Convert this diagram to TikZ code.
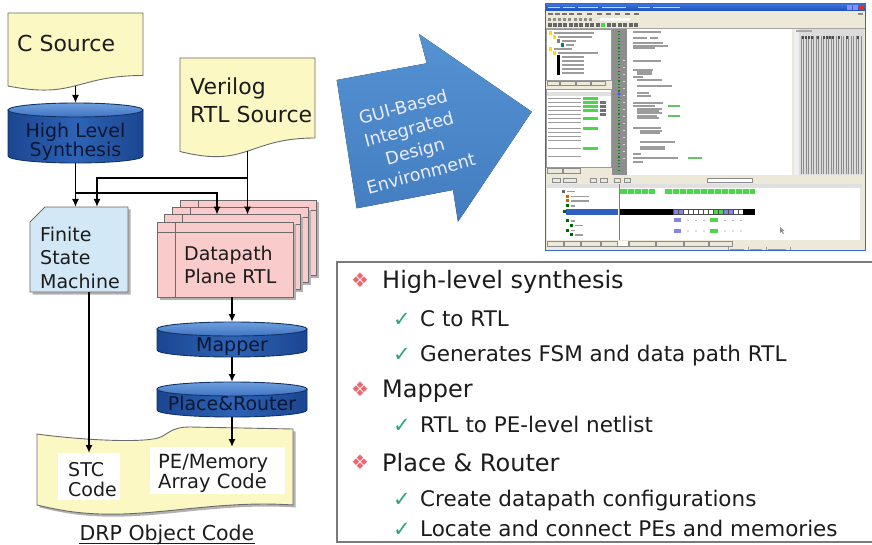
\documentclass[tikz,border=0pt]{standalone}
\usepackage{fontspec}
\setmainfont{DejaVu Sans}
\usetikzlibrary{arrows.meta,calc}

\definecolor{docyellow}{HTML}{FBF8C4}
\definecolor{docedge}{HTML}{6B6B6B}
\definecolor{cyldark}{HTML}{1B4690}
\definecolor{cylmid}{HTML}{2D63B6}
\definecolor{cyltopA}{HTML}{6E9FDD}
\definecolor{cyltopB}{HTML}{3F74C2}
\definecolor{cyledge}{HTML}{123366}
\definecolor{cyltext}{HTML}{0B1733}
\definecolor{fsmblue}{HTML}{D3E8F7}
\definecolor{dppink}{HTML}{FACBCB}
\definecolor{arrowA}{HTML}{5592D2}
\definecolor{arrowB}{HTML}{427DC0}
\definecolor{bulletred}{HTML}{EE6670}
\definecolor{checkgreen}{HTML}{2EA383}
\definecolor{inkdark}{HTML}{1C1C1C}
\definecolor{framegray}{HTML}{7A7A7A}
\definecolor{winbeige}{HTML}{ECE9D8}
\definecolor{winblue}{HTML}{3A67C6}
\definecolor{titleA}{HTML}{3B73DE}
\definecolor{titleB}{HTML}{1E4FB5}
\definecolor{okgreen}{HTML}{4CD64C}
\definecolor{selblue}{HTML}{2F5FBF}
\definecolor{wavepurple}{HTML}{8585DD}
\definecolor{stripgray}{HTML}{8E8E8E}
\definecolor{tinytext}{HTML}{9C9C9C}

\newcommand{\fsz}[1]{\fontsize{#1}{#1}\selectfont}

% database-style cylinder: left x, right x, top y, bottom y, cap half height
\newcommand{\CylShape}[5]{%
  \pgfmathsetmacro{\cylcx}{(#1+#2)/2}%
  \pgfmathsetmacro{\cylrx}{(#2-#1)/2}%
  \draw[cyledge, line width=0.9pt, left color=cyldark, right color=cyldark, middle color=cylmid]
    (#1,{#3+#5}) -- (#1,{#4-#5})
    arc[start angle=180, end angle=0, x radius=\cylrx, y radius=#5]
    -- (#2,{#3+#5}) -- cycle;
  \draw[cyledge, line width=0.9pt, top color=cyltopA, bottom color=cyltopB]
    (\cylcx,{#3+#5}) ellipse[x radius=\cylrx, y radius=#5];
}

% one sheet of the stacked datapath RTL: left x, top y
\newcommand{\DpSheet}[2]{%
  \fill[black!30] ({#1+2.5},{#2+2.5}) rectangle ({#1+138.5},{#2+77.5});
  \draw[docedge, line width=0.8pt, fill=dppink] (#1,#2) rectangle ({#1+136},{#2+75});
  \draw[docedge, line width=0.8pt] ({#1+18},#2) -- ({#1+18},{#2+75});
  \draw[docedge, line width=0.8pt] (#1,{#2+10}) -- ({#1+136},{#2+10});
}

\tikzset{
  docshape/.style={fill=docyellow, draw=docedge, line width=0.9pt},
  conn/.style={draw=black, line width=1.6pt},
  arr/.style={conn, -{Latex[length=8pt,width=7pt]}},
  anchorbox/.style={inner sep=0pt, outer sep=0pt, draw=none},
  lbl/.style={inner sep=0pt, anchor=base west, text=inkdark},
  cyllbl/.style={inner sep=0pt, anchor=base, text=cyltext},
  heading/.style={inner sep=0pt, anchor=base west, text=inkdark, font=\fsz{24}},
  subitem/.style={inner sep=0pt, anchor=base west, text=inkdark, font=\fsz{21.5}},
  bulletmark/.style={inner sep=0pt, text=bulletred, font=\fsz{20}},
  checkmark/.style={inner sep=0pt, anchor=base west, text=checkgreen, font=\fsz{21}},
}

\begin{document}
\begin{tikzpicture}[x=1pt,y=-1pt]
\useasboundingbox (0,0) rectangle (872,545);
\fill[white] (0,0) rectangle (872,545);

%% ---------------- design flow ----------------
% C source document
\draw[docshape] (8,13) -- (143,13) -- (143,75.5)
  .. controls (75.5,75.5) and (75.5,99.4) .. (8,86) -- cycle;
\node[anchorbox, minimum width=135pt, minimum height=73pt] (csrc) at (75.5,49.5) {};
\node[lbl, font=\fsz{22}] (csrcT) at (17,51.7) {C Source};

% Verilog RTL source document
\draw[docshape] (180,58) -- (315,58) -- (315,138)
  .. controls (247.5,138) and (247.5,168.5) .. (180,151.5) -- cycle;
\node[anchorbox, minimum width=135pt, minimum height=93pt] (veri) at (247.5,104.5) {};
\node[lbl, font=\fsz{22}] (veriT1) at (190,95) {Verilog};
\node[lbl, font=\fsz{22}] (veriT2) at (190,122.5) {RTL Source};

% high level synthesis
\CylShape{8}{143}{103}{163}{7}
\node[anchorbox, minimum width=135pt, minimum height=60pt] (hls) at (75.5,133) {};
\node[cyllbl, font=\fsz{19}] (hlsT1) at (75.5,138) {High Level};
\node[cyllbl, font=\fsz{19}] (hlsT2) at (75.5,156.5) {Synthesis};

% finite state machine
\fill[black!30] (47.5,209.5) -- (130.5,209.5) -- (130.5,294.5) -- (32.5,294.5) -- (32.5,224.5) -- cycle;
\draw[docedge, line width=0.9pt, fill=fsmblue] (45,207) -- (128,207) -- (128,292) -- (30,292) -- (30,222) -- cycle;
\node[anchorbox, minimum width=98pt, minimum height=85pt] (fsm) at (79,249.5) {};
\node[lbl, font=\fsz{19}] (fsmT1) at (40,241.5) {Finite};
\node[lbl, font=\fsz{19}] (fsmT2) at (40,265) {State};
\node[lbl, font=\fsz{19}] (fsmT3) at (40,288.3) {Machine};

% datapath plane RTL (stack of sheets, back to front)
\DpSheet{180}{200}
\DpSheet{172.33}{207.33}
\DpSheet{164.67}{214.67}
\DpSheet{157}{222}
\node[anchorbox, minimum width=136pt, minimum height=75pt] (dp3) at (248,237.5) {};
\node[anchorbox, minimum width=136pt, minimum height=75pt] (dp2) at (240.33,244.83) {};
\node[anchorbox, minimum width=136pt, minimum height=75pt] (dp1) at (232.67,252.17) {};
\node[anchorbox, minimum width=136pt, minimum height=75pt] (dp0) at (225,259.5) {};
\node[lbl, font=\fsz{19}] (dpT1) at (184,260) {Datapath};
\node[lbl, font=\fsz{19}] (dpT2) at (184,283) {Plane RTL};

% mapper and place & router
\CylShape{157}{307}{322}{357}{7}
\node[anchorbox, minimum width=150pt, minimum height=35pt] (map) at (232,339.5) {};
\node[cyllbl, font=\fsz{19}] (mapT) at (232,351.5) {Mapper};
\CylShape{157}{307}{382}{417}{7}
\node[anchorbox, minimum width=150pt, minimum height=35pt] (pr) at (232,399.5) {};
\node[cyllbl, font=\fsz{19}] (prT) at (232,410) {Place\&Router};

% DRP object code sheet
\begin{scope}[shift={(2.5,2.5)}]
\fill[black!30] (37,434) .. controls (80,440) and (140,443) .. (158,438)
  .. controls (168,435) and (170,427) .. (190,427) -- (293,429) -- (293,505)
  .. controls (220,500) and (160,516) .. (100,514)
  .. controls (70,513) and (50,508) .. (37,505) -- cycle;
\end{scope}
\draw[docshape] (37,434) .. controls (80,440) and (140,443) .. (158,438)
  .. controls (168,435) and (170,427) .. (190,427) -- (293,429) -- (293,505)
  .. controls (220,500) and (160,516) .. (100,514)
  .. controls (70,513) and (50,508) .. (37,505) -- cycle;
\node[anchorbox, fill=white, minimum width=62pt, minimum height=47pt] (stc) at (89,476.5) {};
\node[anchorbox, fill=white, minimum width=135pt, minimum height=47pt] (pe) at (217.5,470.5) {};
\node[lbl, font=\fsz{19}] (stcT1) at (68,476.5) {STC};
\node[lbl, font=\fsz{19}] (stcT2) at (68,496.5) {Code};
\node[lbl, font=\fsz{19.5}] (peT1) at (158,468) {PE/Memory};
\node[lbl, font=\fsz{19.5}] (peT2) at (158,488) {Array Code};
\node[inner sep=0pt, anchor=base, text=inkdark, font=\fsz{20.5}] (drpT) at (167,540) {DRP Object Code};
\draw[inkdark, line width=1pt] ($(drpT.base west)+(0,3.5)$) -- ($(drpT.base east)+(0,3.5)$);

% connectors
\coordinate (j1) at (75.5,193);
\coordinate (j2) at (247.5,178);
\coordinate (dpinA) at (217,214.67);
\coordinate (dpinB) at (247.5,214.67);
\coordinate (fsminB) at (97,207);
\draw[arr] (csrc.south) -- (hls.north);
\draw[arr] (hls.south) -- (hls.south |- fsm.north);
\draw[arr] (j1) -| (dpinA);
\draw[arr] (veri.south) -- (dpinB);
\draw[arr] (j2) -| (fsminB);
\draw[arr] (stc.north |- fsm.south) -- (stc.north);
\draw[arr] (map.north |- dp0.south) -- (map.north);
\draw[arr] (map.south) -- (pr.north);
\draw[arr] (pr.south) -- (pr.south |- pe.north);

%% ---------------- big arrow ----------------
\fill[top color=arrowA, bottom color=arrowB]
  (336.7,80) -- (426.7,63.3) -- (419,34) -- (531.7,111.7) -- (458,221.7)
  -- (453,190) -- (356.7,208.3) -- cycle;
\node[inner sep=0pt, rotate=15, align=center, text=white!93!blue,
      font=\fontsize{17.5}{23}\selectfont] (guiT) at (412,140)
  {GUI-Based\\Integrated\\Design\\Environment};

%% ---------------- tool window ----------------
\begin{scope}
\fill[winbeige] (545,4) rectangle (865,251);
\fill[top color=titleA, bottom color=titleB] (545,4) rectangle (865,11);
\foreach \a/\b in {548/560,563/575,578/598,602/626,638/650,653/680}
  \fill[white!80!blue] (\a,6.7) rectangle (\b,8.4);
\fill[blue!45] (847,5.2) rectangle (852,10.2);
\fill[blue!45] (853,5.2) rectangle (858,10.2);
\fill[red!70!orange] (859,5.2) rectangle (864,10.2);
% menu bar and tool bars
\foreach \a in {548,555,562,569,577,587,597,606,615,625,634}
  \fill[black!55] (\a,13.5) rectangle (\a+5,15);
\fill[black!45] (858,13.3) rectangle (863,15.3);
\foreach \a in {548,553,558,563,568,574,579,584,589}
  \fill[black!45] (\a,17.8) rectangle (\a+3.2,21);
\fill[white] (600,17.6) rectangle (630,21.4);
\foreach \a in {548,553,558,563,569,574,579,585,590,596,601,607,612,618,623,629,634}
  \fill[black!60] (\a,23.2) rectangle (\a+3.5,26.8);
\fill[okgreen] (601,23.2) rectangle (604.5,26.8);
\draw[black!35, line width=0.4pt] (545,28.3) -- (865,28.3);
% project tree
\fill[white] (546.5,29) rectangle (611,80);
\draw[black!40, line width=0.4pt] (546.5,29) rectangle (611,80);
\foreach \ind/\yy/\col/\len in {549/33/yellow!80!orange/40, 553/37/yellow!80!orange/34,
  557/41/black!50/14, 561/45/teal/8, 549/49/yellow!80!orange/18, 553/53/yellow!80!orange/40,
  557/57/black/22, 557/61/black/22, 557/65/black/22, 557/69/black/22, 557/73/black/22}
  {\fill[\col] (\ind,\yy-1.6) rectangle (\ind+3.2,\yy+1.6);
   \fill[tinytext] (\ind+5,\yy-0.7) rectangle (\ind+5+\len,\yy+0.7);}
\foreach \a/\b in {547/559,560/575,576/590,591/605}
  \draw[black!45, line width=0.4pt, fill=winbeige] (\a,81) rectangle (\b,85.5);
% run list
\fill[white] (546.5,89) rectangle (611,167);
\draw[black!40, line width=0.4pt] (546.5,89) rectangle (611,167);
\fill[black!12] (547,92.5) rectangle (610.5,96);
\foreach \yy in {98.5,102.5,106.5,110.5,114.5,118.5,122.5,128.5,132.5,136.5,140.5,148.5,156.5}
  \fill[tinytext] (548,\yy-0.7) rectangle (581,\yy+0.7);
\foreach \yy in {98.5,102.5,106.5,110.5,118.5,128.5,148.5}
  \fill[okgreen] (583,\yy-1.9) rectangle (598,\yy+1.9);
\foreach \yy in {102.5,106.5,110.5,114.5}
  \fill[black!55] (600,\yy-1.5) rectangle (606,\yy+1.5);
\foreach \a/\b in {547/562,563/580}
  \draw[black!45, line width=0.4pt, fill=winbeige] (\a,168) rectangle (\b,173.5);
% line-number strip
\fill[stripgray] (612,29) rectangle (626.5,175);
\foreach \yy in {31,34.3,...,172}
  \fill[green!55!black] (617.5,\yy) rectangle (620,\yy+1.2);
\foreach \yy in {60,67,...,160}
  \fill[white!85!black] (623,\yy) rectangle (624.5,\yy+1.2);
\fill[blue!70] (619,94) circle[radius=1.6];
% source code view
\fill[white] (627,29) rectangle (791.5,175);
\foreach \a/\yy/\len in {633/32/28, 633/38/14, 650/38/8, 633/43/30, 633/46/35, 633/48/22,
  633/61/28, 633/70/20, 637/72/15, 637/74/15, 633/77/10, 637/80/25, 637/86/35, 637/93/12,
  637/96/14, 633/103/30, 633/106/22, 637/109/25, 637/111/22, 637/113/25, 637/116/20,
  637/118/22, 633/128/28, 640/131/22, 640/133/20, 640/142/35, 640/147/25, 640/149/25,
  633/154/8, 633/158/45, 633/162/10}
  \fill[tinytext] (\a,\yy-0.6) rectangle (\a+\len,\yy+0.6);
\foreach \a/\yy/\len in {668/106/12, 668/116/12, 688/158/14}
  \fill[green!60!black!60] (\a,\yy-0.6) rectangle (\a+\len,\yy+0.6);
% timing table on the right
\fill[black!14] (794,29) rectangle (863.5,175);
\fill[black!6] (794,29) rectangle (798.5,175);
\foreach \xx in {801,803.5,...,861}
  \draw[black!45, line width=0.5pt] (\xx,36) -- (\xx,174);
\foreach \xx in {802,805,808,811,817,823,826,829,832,838,846,857}
  \fill[black!70] (\xx,36.3) rectangle (\xx+1.6,39);
\fill[black!35] (796,30.5) rectangle (812,32.5);
% waveform pane
\fill[winbeige] (546,177) rectangle (862.5,183.5);
\foreach \a/\b in {552/560,563/576,590/596,600/607,614/620,624/630}
  \draw[black!45, line width=0.4pt] (\a,178.3) rectangle (\b,182.5);
\draw[black!45, line width=0.4pt, fill=white] (707,178.3) rectangle (752,182.5);
\fill[black!12] (547,184.3) rectangle (862,188);
\fill[white] (547,188) rectangle (618.5,240);
\fill[white] (620,188) rectangle (859.5,240);
\fill[black!10] (859.5,188) rectangle (862,240);
\draw[black!50, line width=0.5pt] (619.2,184.3) -- (619.2,240);
\foreach \ind/\yy/\col/\len in {562/191.5/black!60/8, 566/196.5/orange!80!black/18,
  566/201/orange!80!black/18, 566/206/green!40!black/4, 566/221/green!40!black/4,
  570/225.5/green!40!black/8, 566/230.5/green!40!black/4, 570/235/green!40!black/8}
  {\fill[\col] (\ind,\yy-1.5) rectangle (\ind+3,\yy+1.5);
   \fill[tinytext] (\ind+4.5,\yy-0.6) rectangle (\ind+4.5+\len,\yy+0.6);}
\fill[selblue] (566,209.3) rectangle (618,214.7);
\fill[green!40!black] (563,210.5) rectangle (566,213.5);
\fill[okgreen] (620,189.3) rectangle (655,194.3);
\fill[okgreen] (665,189.3) rectangle (755,194.3);
\foreach \xx in {627,634,641,648,672,679,686,693,700,707,714,721,728,735,742,749}
  \draw[white!75!green, line width=0.4pt] (\xx,189.3) -- (\xx,194.3);
\fill[black] (620,209.3) rectangle (673,214.7);
\foreach \a/\col in {673/wavepurple,678/wavepurple,683/white,688/white,693/white,698/white,
  703/white,708/white,713/okgreen,718/okgreen,723/wavepurple,728/wavepurple,733/white,738/white}
  \draw[black!70, line width=0.4pt, fill=\col] (\a,209.3) rectangle (\a+5,214.7);
\fill[black] (743,209.3) rectangle (755,214.7);
\foreach \yy in {220.3,231}
  {\fill[wavepurple] (673.5,\yy-2.2) rectangle (681,\yy+2.2);
   \fill[okgreen] (710,\yy-2.2) rectangle (718,\yy+2.2);
   \foreach \xx in {688,696,704,725,733,741}
     \fill[black!55] (\xx,\yy) circle[radius=0.7];}
\fill[black!45] (780,227) -- (780,233) -- (781.5,231.5) -- (783,234) -- (783.8,233.5)
  -- (782.5,231) -- (784.5,231) -- cycle;
% bottom tabs and status bar
\foreach \a/\b in {547/563,564/580,581/600,601/617,618/628,629/655,656/683,684/708,709/732}
  \draw[black!45, line width=0.4pt, fill=winbeige] (\a,241) rectangle (\b,246);
\fill[white] (618.3,241.2) rectangle (627.7,245.8);
\foreach \a in {728,748,766,790}
  \draw[black!40, line width=0.4pt] (\a,247) -- (\a,251);
\foreach \a/\b in {730/744,750/762,768/786}
  \fill[tinytext] (\a,248.6) rectangle (\b,249.8);
\draw[winblue, line width=1pt] (545,4) rectangle (865,251);
\end{scope}

%% ---------------- summary box ----------------
\draw[framegray, line width=1.2pt] (337,262) rectangle (890,542);
\node[bulletmark] (bul1) at (360,280) {❖};
\node[heading] (h1) at (382,288) {High-level synthesis};
\node[checkmark] (ck1) at (393,326) {✓};
\node[subitem] (s1) at (420,326) {C to RTL};
\node[checkmark] (ck2) at (393,361) {✓};
\node[subitem] (s2) at (420,361) {Generates FSM and data path RTL};
\node[bulletmark] (bul2) at (360,389) {❖};
\node[heading] (h2) at (382,397.7) {Mapper};
\node[checkmark] (ck3) at (393,432.7) {✓};
\node[subitem] (s3) at (420,432.7) {RTL to PE-level netlist};
\node[bulletmark] (bul3) at (360,462) {❖};
\node[heading] (h3) at (382,471) {Place \& Router};
\node[checkmark] (ck4) at (393,506) {✓};
\node[subitem] (s4) at (420,506) {Create datapath configurations};
\node[checkmark] (ck5) at (393,536.7) {✓};
\node[subitem] (s5) at (420,536.7) {Locate and connect PEs and memories};
\end{tikzpicture}
\end{document}
